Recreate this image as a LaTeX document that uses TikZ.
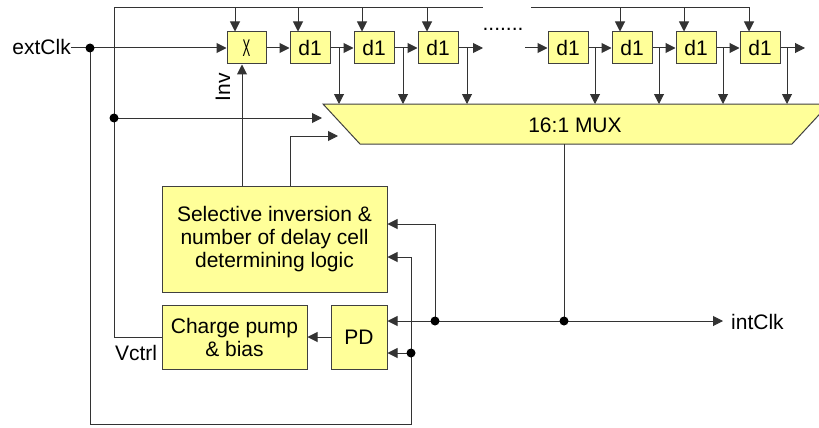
\documentclass[tikz,border=0pt]{standalone}
\usepackage{fontspec}
\setmainfont{Liberation Sans}
\usetikzlibrary{arrows.meta,calc}
\definecolor{boxfill}{HTML}{FFFF99}
\begin{document}
\begin{tikzpicture}[x=1pt,y=-1pt,
  font=\fontsize{21}{23}\selectfont,
  blk/.style={draw=black!75,fill=boxfill,line width=1pt,inner sep=0pt,align=center},
  muxshape/.style={draw=black!75,fill=boxfill,line width=1pt},
  wire/.style={draw=black!80,line width=1pt},
  arr/.style={wire,-{Triangle[length=10pt,width=10pt]}},
  dot/.style={circle,fill=black,inner sep=0pt,minimum size=9pt},
  lbl/.style={inner sep=0pt}]
\useasboundingbox (0,0) rectangle (819,428);
\clip (0,0) rectangle (819,428);

% delay line
\node[blk,minimum width=39pt,minimum height=32pt] (X) at (246.5,48) {\scalebox{0.55}[1.15]{X}};
\node[blk,minimum width=40pt,minimum height=32pt] (d1a) at (310,48) {d1};
\node[blk,minimum width=40pt,minimum height=32pt] (d1b) at (374,48) {d1};
\node[blk,minimum width=40pt,minimum height=32pt] (d1c) at (438,48) {d1};
\node[blk,minimum width=40pt,minimum height=32pt] (d1d) at (568,48) {d1};
\node[blk,minimum width=40pt,minimum height=32pt] (d1e) at (632,48) {d1};
\node[blk,minimum width=40pt,minimum height=32pt] (d1f) at (696,48) {d1};
\node[blk,minimum width=40pt,minimum height=32pt] (d1g) at (760,48) {d1};
\node[lbl,anchor=base] (dots) at (503,31) {.......};

% MUX
\draw[muxshape] (323,104) -- (829,104) -- (792,144) -- (360,144) -- cycle;
\node[lbl,anchor=base] (mux) at (575,132) {16:1 MUX};
\coordinate (muxT) at (0,104);

% lower blocks
\node[blk,minimum width=225pt,minimum height=106pt] (logic) at (274.5,239)
  {Selective inversion \&\\number of delay cell\\determining logic};
\node[blk,minimum width=145pt,minimum height=64pt] (cp) at (234.5,337) {Charge pump\\\& bias};
\node[blk,minimum width=56pt,minimum height=64pt] (pd) at (359,337) {PD};

% labels
\node[lbl,anchor=base east] (ext) at (71,55) {extClk};
\node[lbl,anchor=base west] (int) at (731,329) {intClk};
\node[lbl,anchor=base] (vctrl) at (136,360) {Vctrl};
\node[lbl,rotate=90] (inv) at (223,87) {Inv};

% coordinates
\coordinate (jExt) at (90,48);
\coordinate (jV) at (114,118);
\coordinate (jFb) at (435,321);
\coordinate (jOut) at (564,321);
\coordinate (jRef) at (411,353);
\coordinate (dOutL) at (483,48);
\coordinate (dInR) at (525,48);
\coordinate (dOutR) at (805,48);

% chain arrows
\draw[wire] (ext.east |- X.west) -- (jExt);
\draw[arr] (jExt) -- (X.west);
\draw[arr] (X.east) -- (d1a.west);
\draw[arr] (d1a.east) -- (d1b.west);
\draw[arr] (d1b.east) -- (d1c.west);
\draw[arr] (d1c.east) -- (dOutL);
\draw[arr] (dInR) -- (d1d.west);
\draw[arr] (d1d.east) -- (d1e.west);
\draw[arr] (d1e.east) -- (d1f.west);
\draw[arr] (d1f.east) -- (d1g.west);
\draw[arr] (d1g.east) -- (dOutR);

% control line from charge pump (Vctrl) over the top
\draw[wire] (cp.west) -| (114,8) -- (483,8);
\draw[arr] (531,8) -| (d1g.north -| 749,0);
\draw[arr] (235,8) -- (X.north -| 235,0);
\draw[arr] (298,8) -- (d1a.north -| 298,0);
\draw[arr] (362,8) -- (d1b.north -| 362,0);
\draw[arr] (427,8) -- (d1c.north -| 427,0);
\draw[arr] (620,8) -- (d1e.north -| 620,0);
\draw[arr] (684,8) -- (d1f.north -| 684,0);

% taps to MUX
\foreach \t in {339,403,467,595,659,723,787}
  \draw[arr] (\t,48) -- (muxT -| \t,0);

% MUX side inputs
\draw[arr] (jV) -- (322,118);
\draw[arr] (logic.north -| 290,0) |- (338,136);
\draw[arr] (logic.north -| 242,0) -- (X.south -| 242,0);

% output and feedback
\draw[wire] (564,144) -- (jOut);
\draw[arr] (jFb) -- (723,321);
\draw[arr] (jFb) -- (pd.east |- jFb);
\draw[arr] (jFb) |- (logic.east |- 0,224);
\draw[arr] (jExt) -- (90,424) -| (411,257) -- (logic.east |- 0,257);
\draw[arr] (jRef) -- (pd.east |- jRef);
\draw[arr] (pd.west) -- (cp.east);

% junction dots
\foreach \j in {jExt,jV,jFb,jOut,jRef}
  \node[dot] at (\j) {};
\end{tikzpicture}
\end{document}
